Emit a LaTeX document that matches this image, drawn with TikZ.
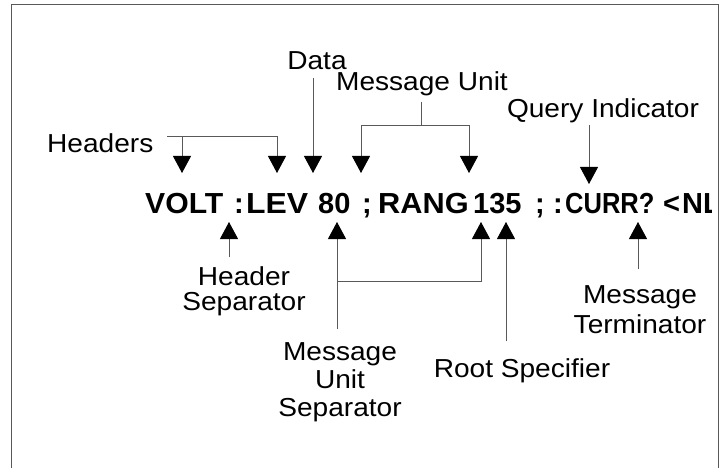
\documentclass[tikz,border=0pt]{standalone}
\usepackage{fontspec}
\setmainfont{Liberation Sans}[FakeStretch=1.08]
\newfontfamily\cmdfont{Liberation Sans}
\usetikzlibrary{arrows.meta}

\begin{document}
\begin{tikzpicture}[x=1pt, y=-1pt]
		\tikzstyle{token}=[inner sep=0pt, anchor=base west, font=\cmdfont\fontsize{29}{29}\selectfont\bfseries]
		\tikzstyle{note}=[inner sep=0pt, anchor=base, align=center, font=\fontsize{26}{26}\selectfont]
		\tikzstyle{bracket}=[draw=black!65, line width=0.9pt]
		\tikzstyle{pointer}=[bracket, -{Triangle[width=18pt, length=17pt, color=black]}]

		\useasboundingbox (0,0) rectangle (726,468);
		\draw[bracket] (11,468) -- (11,4) -- (718,4) -- (718,468);

		% the command line, cut off at the frame
		\begin{scope}
			\clip (0,0) rectangle (711,468);
			\node[token] (volt) at (145,213) {\scalebox{1.04}[1]{VOLT}};
			\node[token] (colA) at (234,213) {:};
			\node[token] (lev) at (246,213) {\scalebox{1.1}[1]{LEV}};
			\node[token] (val80) at (318,213) {80};
			\node[token] (semiA) at (362,213) {;};
			\node[token] (rang) at (378,213) {\scalebox{1.06}[1]{RANG}};
			\node[token] (val135) at (473,213) {135};
			\node[token] (semiB) at (535,213) {;};
			\node[token] (colB) at (553,213) {:};
			\node[token] (curr) at (565,213) {\scalebox{0.88}[1]{CURR?}};
			\node[token] (nl) at (663,213) {<\hspace{2pt}NL>};
		\end{scope}

		% labels above
		\node[note, anchor=base west] (headers) at (47,153) {Headers};
		\node[note] (data) at (317,70) {Data};
		\node[note] (unit) at (422,91) {Message Unit};
		\node[note] (query) at (603,118) {Query Indicator};

		% labels below (base is the last line)
		\node[note, font=\fontsize{26}{25}\selectfont] (hdrSep) at (244,310) {Header\\Separator};
		\node[note, font=\fontsize{26}{28}\selectfont] (unitSep) at (340,416) {Message\\Unit\\Separator};
		\node[note] (root) at (522,377) {Root Specifier};
		\node[note, font=\fontsize{26}{30}\selectfont] (term) at (640,333) {Message\\Terminator};

		\coordinate (hdrJ) at (167,136);
		\coordinate (hdrA) at (182,173);
		\coordinate (hdrB) at (277,173);
		\coordinate (dataTip) at (313,173);
		\coordinate (unitJ) at (421,125);
		\coordinate (unitA) at (361,173);
		\coordinate (unitB) at (469,173);
		\coordinate (queryTip) at (589,184);

		\coordinate (hdrSepTip) at (229,222);
		\coordinate (unitSepA) at (337,222);
		\coordinate (unitSepB) at (481,222);
		\coordinate (unitSepJ) at (337,281);
		\coordinate (rootTip) at (506,222);
		\coordinate (termTip) at (638,222);

		\draw[pointer] (hdrJ) -| (hdrB);
		\draw[pointer] (hdrJ -| hdrA) -- (hdrA);
		\draw[pointer] (dataTip |- 0,78) -- (dataTip);
		\draw[bracket] (unitJ |- 0,102) -- (unitJ);
		\draw[pointer] (unitJ) -| (unitA);
		\draw[pointer] (unitJ) -| (unitB);
		\draw[pointer] (queryTip |- 0,125) -- (queryTip);

		\draw[pointer] (hdrSepTip |- 0,257) -- (hdrSepTip);
		\draw[pointer] (unitSepA |- 0,329) -- (unitSepA);
		\draw[pointer] (unitSepJ) -| (unitSepB);
		\draw[pointer] (rootTip |- 0,341) -- (rootTip);
		\draw[pointer] (termTip |- 0,269) -- (termTip);

	\end{tikzpicture}
\end{document}
